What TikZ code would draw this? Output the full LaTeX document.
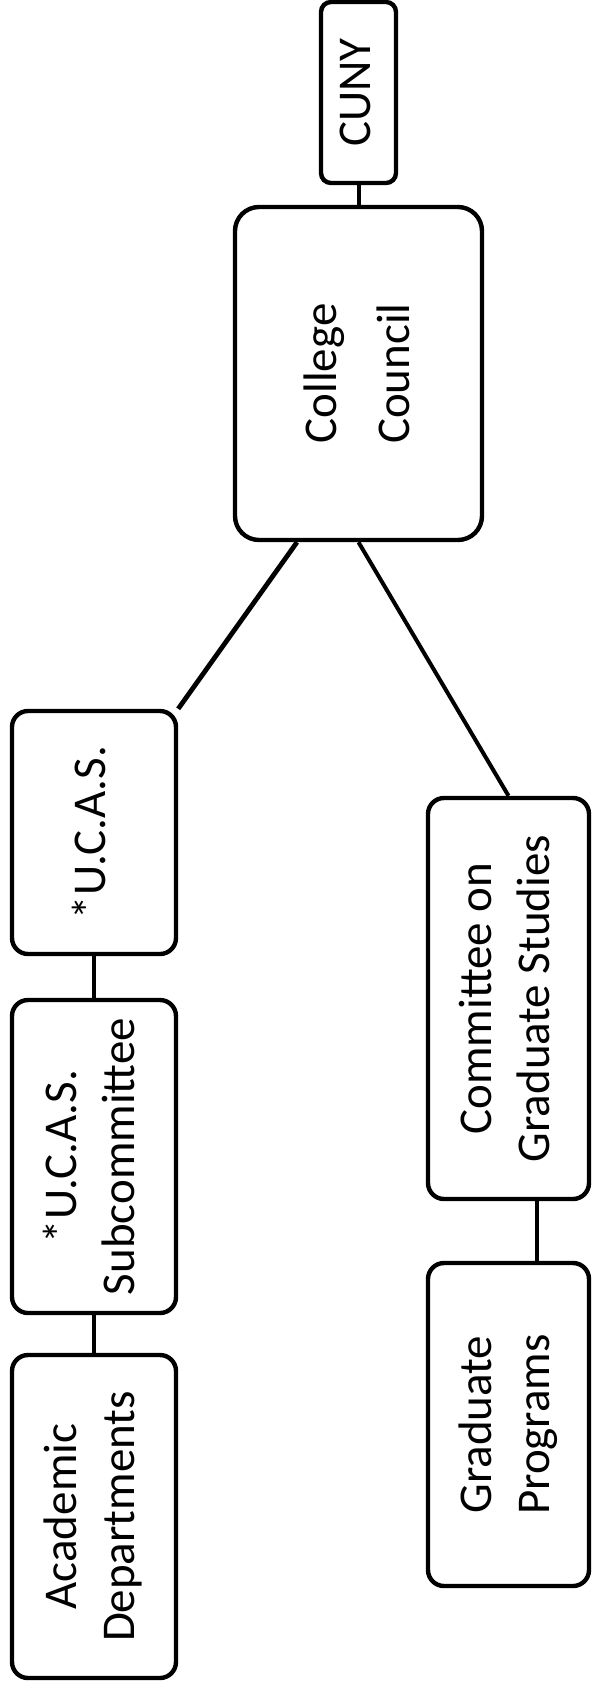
\documentclass[tikz,border=0pt]{standalone}
\usepackage{fontspec}
\setmainfont{Carlito}
\usepackage{graphicx}

\newcommand{\sidetext}[1]{\rotatebox{90}{\begin{tabular}{@{}c@{}}#1\end{tabular}}}

\begin{document}
\begin{tikzpicture}[x=0.5pt,y=-0.5pt,line width=2pt,
		org node/.style = {draw, line width=2.2pt, rounded corners=8pt, inner sep=0pt,
			font=\fontsize{23.5pt}{29pt}\selectfont}]
		
		\useasboundingbox (0,0) rectangle (591,1691);
		
		\node[org node,rounded corners=12pt,minimum width=123.5pt,minimum height=166.5pt,
			font=\fontsize{23.5pt}{36.5pt}\selectfont] at (358.5,373.5) (cc) {\sidetext{College\\Council}};
		\node[org node,rounded corners=5pt,minimum width=37.5pt,minimum height=90.5pt,node distance=140.5pt] [above of = cc] (cuny) {\sidetext{CUNY}};
		\node[org node,minimum width=82pt,minimum height=121.5pt] at (94,832.5) (ucas) {\sidetext{*U.C.A.S.}};
		\node[org node,minimum width=82pt,minimum height=156.5pt,node distance=162pt] [below of = ucas] (sub) {\sidetext{*U.C.A.S.\\Subcommittee}};
		\node[org node,minimum width=82pt,minimum height=161.5pt,node distance=180pt] [below of = sub] (acad) {\sidetext{Academic\\Departments}};
		\node[org node,minimum width=80.5pt,minimum height=200.5pt] at (508.5,998.5) (cgs) {\sidetext{Committee on\\Graduate Studies}};
		\node[org node,minimum width=80.5pt,minimum height=161.5pt,node distance=213pt] [below of = cgs] (gp) {\sidetext{Graduate\\Programs}};
		
		\path[-]
		(cuny) edge (cc)
		([xshift=-30.75pt]cc.south) edge [line width=2.4pt] (ucas.north east)
		(cc.south) edge (cgs.north)
		(ucas) edge (sub)
		(sub) edge (acad)
		([xshift=14.25pt]cgs.south) edge ([xshift=14.25pt]gp.north);
\end{tikzpicture}
\end{document}
